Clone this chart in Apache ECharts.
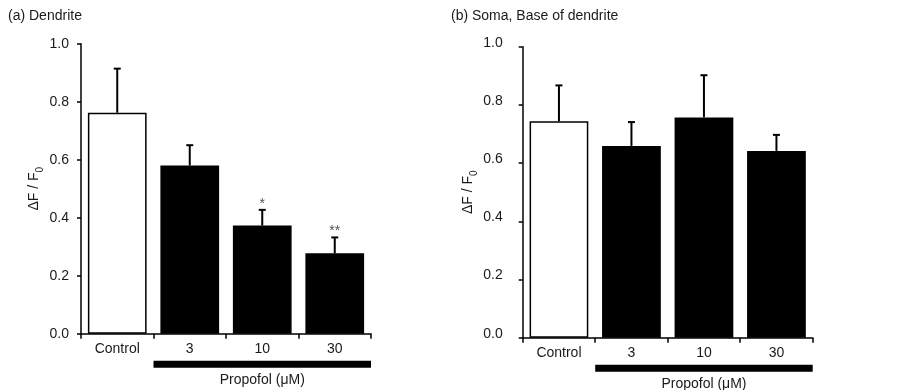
<!DOCTYPE html>
<html>
<head>
<meta charset="utf-8">
<script src="https://cdn.jsdelivr.net/npm/echarts@6/dist/echarts.min.js"></script>
<style>
html,body{margin:0;padding:0;background:#fff;}
#main{width:903px;height:390px;}
</style>
</head>
<body>
<div id="main"></div>
<script>
// ---- data ----
const categories = ['Control', '3', '10', '30'];
const dendriteMeans = [0.762, 0.580, 0.373, 0.277];
const dendriteErrors = [0.152, 0.070, 0.054, 0.055];
const dendriteSig = ['', '', '*', '**'];
const somaMeans = [0.744, 0.659, 0.757, 0.642];
const somaErrors = [0.123, 0.082, 0.145, 0.055];
const somaSig = ['', '', '', ''];
const yTicks = [0.0, 0.2, 0.4, 0.6, 0.8, 1.0];
const panelTitles = ['(a) Dendrite', '(b) Soma, Base of dendrite'];
const groupLabel = 'Propofol (μM)';
const groupRange = [1, 3]; // category indices covered by the drug bar

const FONT = '"Liberation Sans", Arial, Helvetica, sans-serif';
const TXT = '#1a1a1a';
const chart = echarts.init(document.getElementById('main'), null, {renderer: 'canvas'});

function yAxisCfg(gridIndex, labelMargin, nameGap, raised) {
  const label = {fontFamily: FONT, fontSize: 14, color: TXT, margin: labelMargin,
    formatter: v => v.toFixed(1)};
  if (raised) { label.verticalAlign = 'bottom'; label.lineHeight = 8; }
  return {
    type: 'value', gridIndex: gridIndex, min: yTicks[0], max: yTicks[yTicks.length - 1], interval: 0.2,
    name: '{a|ΔF / F}{s|0}', nameLocation: 'middle', nameGap: nameGap, nameRotate: 90,
    nameTextStyle: {
      rich: {
        a: {fontFamily: FONT, fontSize: 14, color: TXT},
        s: {fontFamily: FONT, fontSize: 10, color: TXT, verticalAlign: 'bottom', padding: [0, 0, -4, 0]}
      }
    },
    axisLine: {show: true, lineStyle: {color: '#000', width: 1.5}},
    axisTick: {show: true, inside: false, length: 4, lineStyle: {color: '#000', width: 1.5}},
    axisLabel: label,
    splitLine: {show: false}
  };
}
function xAxisCfg(gridIndex) {
  return {
    type: 'category', gridIndex: gridIndex, data: categories, boundaryGap: true,
    axisLine: {show: true, lineStyle: {color: '#000', width: 1.5}},
    axisTick: {show: true, alignWithLabel: false, length: 5, lineStyle: {color: '#000', width: 1.5}},
    axisLabel: {fontFamily: FONT, fontSize: 14, color: TXT, margin: 8, interval: 0},
    splitLine: {show: false}
  };
}
function barSeries(idx, means) {
  return {
    type: 'bar', xAxisIndex: idx, yAxisIndex: idx, barCategoryGap: '19%',
    data: means.map((v, i) => ({value: v, itemStyle: {color: i === 0 ? '#fff' : '#000'}})),
    itemStyle: {borderColor: '#000', borderWidth: 1.5},
    silent: true, z: 2
  };
}
function errSeries(idx, means, errs, sig) {
  return {
    type: 'custom', xAxisIndex: idx, yAxisIndex: idx, clip: false, silent: true, z: 3,
    data: means.map((v, i) => [i, v, errs[i], i]),
    renderItem: function (params, api) {
      const i = api.value(0), v = api.value(1), e = api.value(2);
      const p0 = api.coord([i, v]);
      const p1 = api.coord([i, v + e]);
      const children = [
        {type: 'line', shape: {x1: p0[0], y1: p0[1], x2: p1[0], y2: p1[1]}, style: {stroke: '#000', lineWidth: 2}},
        {type: 'line', shape: {x1: p1[0] - 3.5, y1: p1[1], x2: p1[0] + 3.5, y2: p1[1]}, style: {stroke: '#000', lineWidth: 2}}
      ];
      const s = sig[api.value(3)];
      if (s) {
        children.push({type: 'text', x: p1[0], y: p1[1] + 1,
          style: {text: s, fontFamily: FONT, fontSize: 14, fill: '#555', align: 'center', verticalAlign: 'bottom'}});
      }
      return {type: 'group', children: children};
    }
  };
}
function groupSeries(idx) {
  return {
    type: 'custom', xAxisIndex: idx, yAxisIndex: idx, clip: false, silent: true, z: 3,
    data: [[groupRange[0], groupRange[1]]],
    renderItem: function (params, api) {
      const band = api.size([1, 0])[0];
      const a = api.coord([api.value(0), 0]);
      const b = api.coord([api.value(1), 0]);
      const x1 = a[0] - band / 2, x2 = b[0] + band / 2;
      const y = a[1] + 27;
      return {type: 'group', children: [
        {type: 'rect', shape: {x: x1, y: y, width: x2 - x1, height: 7}, style: {fill: '#000'}},
        {type: 'text', x: (x1 + x2) / 2, y: y + 19,
          style: {text: groupLabel, fontFamily: FONT, fontSize: 14, fill: TXT, align: 'center', verticalAlign: 'middle'}}
      ]};
    }
  };
}

chart.setOption({
  animation: false,
  backgroundColor: '#fff',
  title: [
    {text: panelTitles[0], left: 3, top: 4, textStyle: {fontFamily: FONT, fontSize: 14, fontWeight: 'normal', color: TXT}},
    {text: panelTitles[1], left: 446, top: 4, textStyle: {fontFamily: FONT, fontSize: 14, fontWeight: 'normal', color: TXT}}
  ],
  grid: [
    {left: 81, top: 43.7, width: 290, height: 290},
    {left: 522.7, top: 46.7, width: 290, height: 291}
  ],
  xAxis: [xAxisCfg(0), xAxisCfg(1)],
  yAxis: [yAxisCfg(0, 12, 40, false), yAxisCfg(1, 20, 43, true)],
  series: [
    barSeries(0, dendriteMeans), errSeries(0, dendriteMeans, dendriteErrors, dendriteSig), groupSeries(0),
    barSeries(1, somaMeans), errSeries(1, somaMeans, somaErrors, somaSig), groupSeries(1)
  ]
});
</script>
</body>
</html>
